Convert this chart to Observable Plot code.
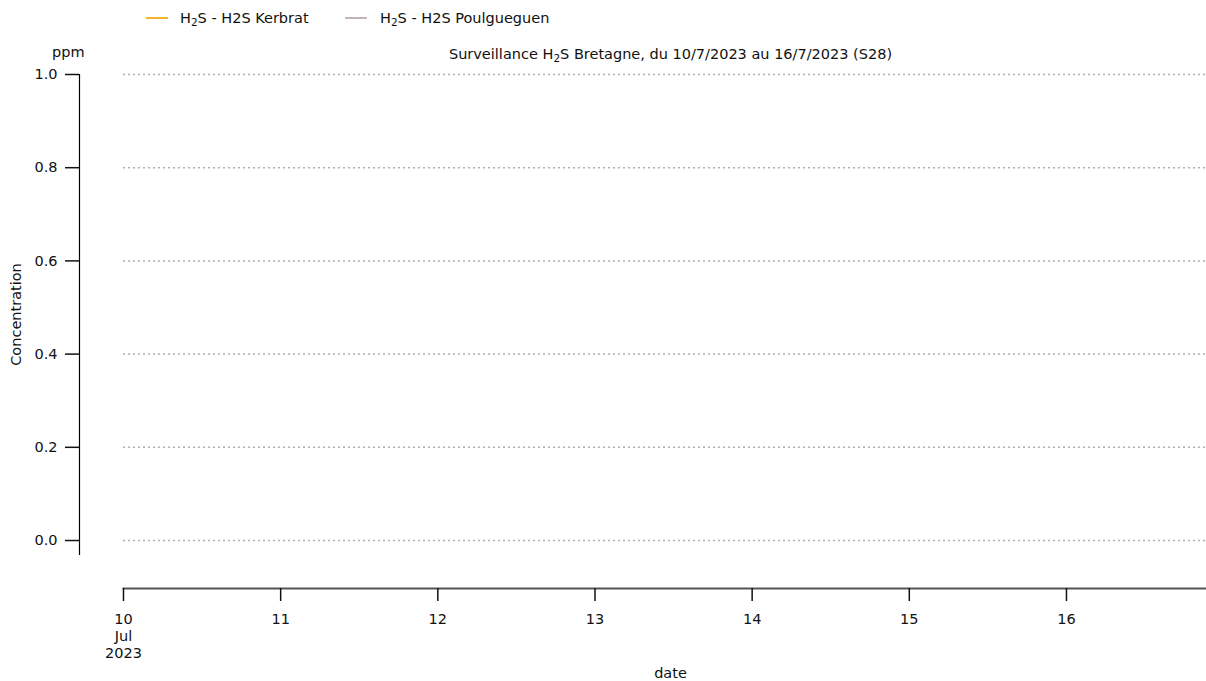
<!DOCTYPE html>
<html>
<head>
<meta charset="utf-8">
<script src="https://cdn.jsdelivr.net/npm/d3@7"></script>
<script src="https://cdn.jsdelivr.net/npm/@observablehq/plot@0.6"></script>
<style>
  html, body { margin: 0; padding: 0; background: #fff; }
  body { font-family: "DejaVu Sans", sans-serif; color: #111; }
  #wrap { width: 1206px; height: 681px; overflow: hidden; }
  #header { position: relative; width: 1206px; height: 64px; font-size: 14.5px; }
  #header .abs { position: absolute; white-space: nowrap; line-height: 16px; }
  #header sub { font-size: 10.5px; vertical-align: -3px; line-height: 0; }
  .swatch { position: absolute; height: 2px; width: 22px; }
  svg { display: block; }
</style>
</head>
<body>
<div id="wrap">
  <div id="header"></div>
  <div id="chart"></div>
</div>
<script>
// ---- data ----
const seriesNames = ["H2S Kerbrat", "H2S Poulgueguen"];
const seriesColors = ["#f0b52a", "#c4b4b8"];
const kerbratDates = [];
const kerbratValues = [];
const poulgueguenDates = [];
const poulgueguenValues = [];
const yTicks = [0.0, 0.2, 0.4, 0.6, 0.8, 1.0];
const xTickDays = ["2023-07-10", "2023-07-11", "2023-07-12", "2023-07-13", "2023-07-14", "2023-07-15", "2023-07-16"];
const xDomain = ["2023-07-10T00:00Z", "2023-07-16T21:23Z"];
const yDomain = [-0.03, 1.0];
const titleText = "Surveillance H<sub>2</sub>S Bretagne, du 10/7/2023 au 16/7/2023 (S28)";
const yUnit = "ppm";
const yLabel = "Concentration";
const xLabel = "date";

// ---- header (legend, title, unit) ----
const header = document.getElementById("header");
const legendPos = [{line: 146, text: 180}, {line: 345, text: 380}];
seriesNames.forEach((name, i) => {
  const sw = document.createElement("div");
  sw.className = "swatch";
  sw.style.left = legendPos[i].line + "px";
  sw.style.top = "17px";
  sw.style.background = seriesColors[i];
  header.appendChild(sw);
  const t = document.createElement("div");
  t.className = "abs";
  t.style.left = legendPos[i].text + "px";
  t.style.top = "10px";
  t.innerHTML = "H<sub>2</sub>S - " + name;
  header.appendChild(t);
});
const title = document.createElement("div");
title.className = "abs";
title.style.left = "670.5px";
title.style.top = "46px";
title.style.transform = "translateX(-50%)";
title.innerHTML = titleText;
header.appendChild(title);
const unit = document.createElement("div");
unit.className = "abs";
unit.style.left = "52px";
unit.style.top = "44px";
unit.textContent = yUnit;
header.appendChild(unit);

// ---- chart ----
const kerbrat = kerbratDates.map((d, i) => ({date: new Date(d), value: kerbratValues[i]}));
const poulgueguen = poulgueguenDates.map((d, i) => ({date: new Date(d), value: poulgueguenValues[i]}));
const tickDates = xTickDays.map(d => new Date(d + "T00:00Z"));
const firstTick = tickDates[0].getTime();

const chart = Plot.plot({
  width: 1206,
  height: 617,
  marginTop: 10,
  marginBottom: 127,
  marginLeft: 123,
  marginRight: 0,
  style: {fontFamily: "DejaVu Sans, sans-serif", fontSize: "14.5px", color: "#111", background: "#fff"},
  x: {type: "utc", domain: xDomain.map(d => new Date(d))},
  y: {domain: yDomain},
  marks: [
    Plot.gridY(yTicks, {stroke: "#b0b0b0", strokeOpacity: 1, strokeWidth: 1.5, strokeDasharray: "2,3"}),
    Plot.frame({anchor: "left", dx: -44, stroke: "#000", strokeWidth: 1.2}),
    Plot.axisY(yTicks, {anchor: "left", dx: -44, tickSize: 14, tickPadding: 8, strokeWidth: 1.5, tickFormat: d3.format(".1f"), label: null, fill: "#111"}),
    Plot.frame({anchor: "bottom", dy: 34, stroke: "#555", strokeWidth: 1.8}),
    Plot.axisX(tickDates, {
      anchor: "bottom", dy: 34, tickSize: 13, tickPadding: 11, strokeWidth: 1.5, label: null, fill: "#111", lineHeight: 1.15,
      tickFormat: d => d.getTime() === firstTick ? `${d.getUTCDate()}\nJul\n2023` : `${d.getUTCDate()}`
    }),
    Plot.line(kerbrat, {x: "date", y: "value", stroke: seriesColors[0], strokeWidth: 2}),
    Plot.line(poulgueguen, {x: "date", y: "value", stroke: seriesColors[1], strokeWidth: 2}),
    Plot.text([xLabel], {frameAnchor: "bottom", lineAnchor: "middle", dx: 5.5, dy: 119, fill: "#111"}),
    Plot.text([yLabel], {frameAnchor: "left", textAnchor: "middle", rotate: -90, dx: -107, fill: "#111"})
  ]
});
document.getElementById("chart").appendChild(chart);
</script>
</body>
</html>
